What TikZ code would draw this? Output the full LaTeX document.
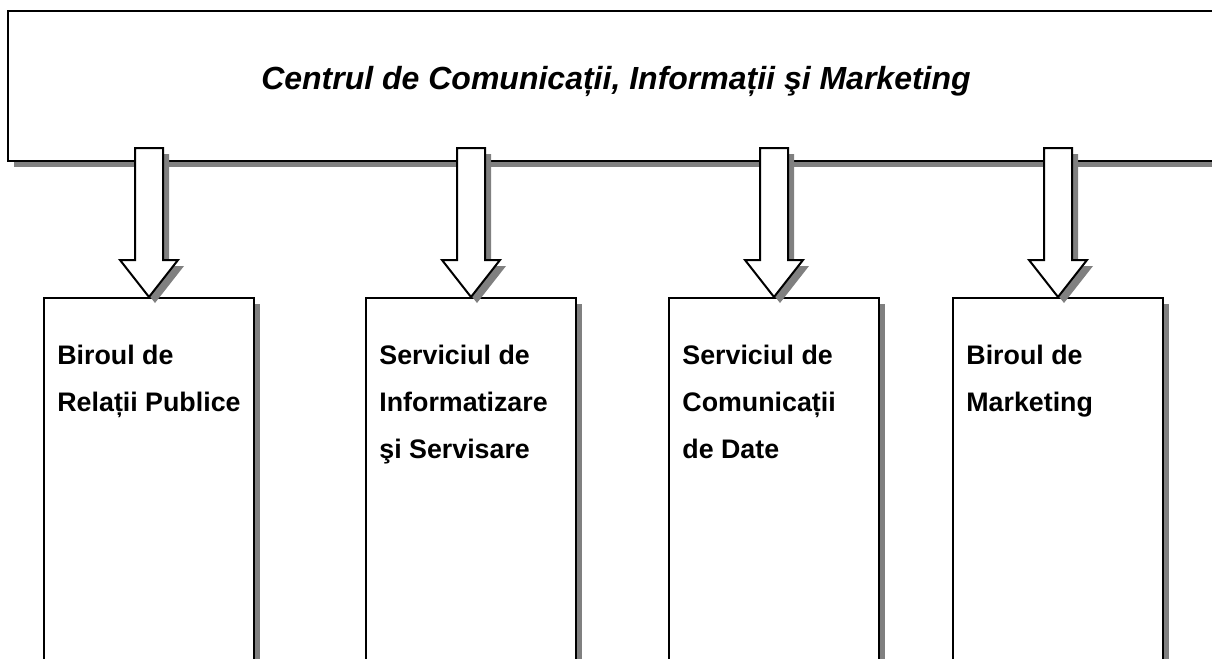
\documentclass[tikz,border=0pt]{standalone}
\usepackage{fontspec}
\setmainfont{Liberation Sans}
\usetikzlibrary{calc,shadows}
\definecolor{umbra}{HTML}{808080}

\begin{document}
\begin{tikzpicture}[x=0.5pt,y=-0.5pt,
	cadru/.style={draw,line width=1pt,fill=white,
		drop shadow={shadow xshift=3pt,shadow yshift=-3pt,fill=umbra,opacity=1}},
	sageata/.style={cadru,line join=miter},
	birou/.style={cadru,inner sep=0pt,minimum width=105pt,minimum height=200pt,anchor=north}]
	\useasboundingbox (0,0) rectangle (1212,659);
	\clip (0,0) rectangle (1212,659);
	\fill[white] (0,0) rectangle (1212,659);

	% centrul
	\node[cadru,inner sep=0pt,minimum width=607pt,minimum height=75pt] (centru) at (615,86) {};
	\node[anchor=base,font=\fontsize{16}{19}\selectfont\bfseries\itshape] (titlu) at (616,89)
		{Centrul de Comunicații, Informații şi Marketing};

	% birourile
	\foreach \x/\nume/\txt in {149/b1/{Biroul de\\Relații Publice},
			471/b2/{Serviciul de\\Informatizare\\şi Servisare},
			774/b3/{Serviciul de\\Comunicații\\de Date},
			1058/b4/{Biroul de\\Marketing}}{
		\node[birou] (\nume) at (\x,297) {};
		\node[anchor=north west,inner sep=0pt,align=left,
			font=\fontsize{13.4}{23.5}\selectfont\bfseries] (t\nume) at ($(\nume.north west)+(14,48)$) {\txt};
	}

	% sagetile
	\foreach \nume in {b1,b2,b3,b4}
		\draw[sageata] ($(\nume.north)+(-14,-149)$) -- ++(28,0) -- ++(0,112) -- ++(15,0)
			-- (\nume.north) -- ++(-29,-37) -- ++(15,0) -- cycle;
\end{tikzpicture}
\end{document}
